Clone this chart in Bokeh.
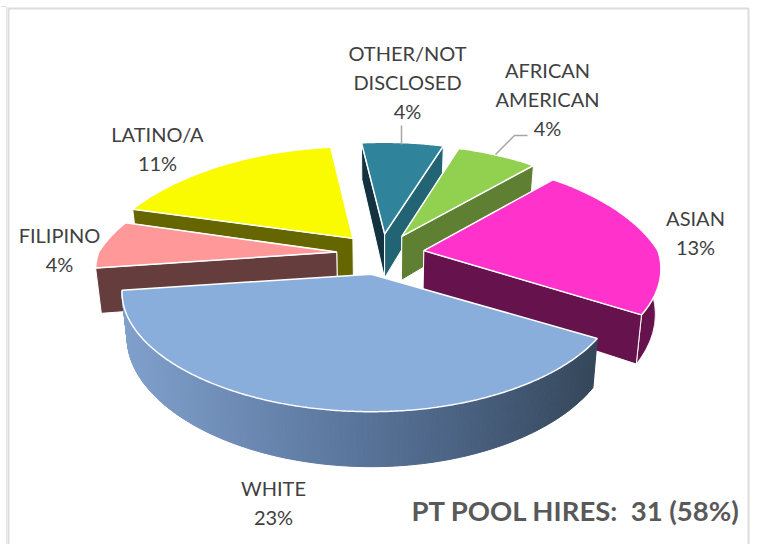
import numpy as np
from bokeh.plotting import figure
from bokeh.models import Range1d
from bokeh.core.properties import value
from bokeh.embed import file_html
from bokeh.resources import INLINE

categories = ["OTHER/NOT\nDISCLOSED", "AFRICAN\nAMERICAN", "ASIAN", "WHITE", "FILIPINO", "LATINO/A"]
values = [4, 4, 13, 23, 4, 11]
title_text = "PT POOL HIRES: \u00a031 (58%)"

top_colors = ["#2f849b", "#92d050", "#ff33cc", "#8aaedc", "#ff9999", "#fbfb00"]
wall_colors = ["#12333f", "#5f8032", "#66134d", "#35475a", "#663d3d", "#666600"]
end_colors = ["#236474", "#5f8032", "#66134d", "#35475a", "#663d3d", "#666600"]
label_pos = [(407, 52), (547, 69), (695, 217), (273, 487), (59, 234), (157, 133)]
left_reach = [260.0, 238.0, 238.0, 246.0, 238.0, 248.0]
right_reach = [245.0, 238.0, 234.0, 243.0, 238.0, 238.0]
LINE_H = 29
TEXT = "#404040"

CX, CY, C, P, E, D, START = 380.0, 253.0, 110.0, 0.2, 0.185, 44.0, -6.6
A = 238.0
PX_BACK, PX_FRONT = 0.29, 0.16
SHRINK = 0.98

p = figure(width=759, height=544, output_backend="svg", toolbar_location=None,
           x_range=Range1d(0, 759), y_range=Range1d(544, 0), min_border=0)
p.axis.visible = False
p.grid.visible = False
p.outline_line_color = None
p.background_fill_color = "white"
p.border_fill_color = "white"

# frame
p.line([8, 8, 748, 748], [544, 8, 8, 544], line_color="#dcdcdc", line_width=2)
p.line([0, 6, 6], [6, 6, 544], line_color="#e4e4e4", line_width=1)


def rim(theta, a_left, a_right):
    t = np.radians(theta)
    X, Y = np.sin(t), -np.cos(t)
    w = 1 - P * Y
    wx = 1 - np.where(Y < 0, PX_BACK, PX_FRONT) * Y
    reach = np.where(X < 0, a_left, a_right)
    return reach * X / wx, C * Y / w, Y


total = sum(values)
spans = [v / total * 360 for v in values]
starts = START + np.concatenate([[0], np.cumsum(spans)[:-1]])
slices = []
for s, sp, al, ar in zip(starts, spans, left_reach, right_reach):
    m = np.radians(s + sp / 2)
    mx, my = np.sin(m) * E, -np.cos(m) * E
    w = 1 - P * my
    ax, ay = CX + A * mx / w, CY + C * my / w
    th = np.linspace(s, s + sp, max(int(sp * 2), 12))
    dx, dy, Y = rim(th, al, ar)
    slices.append(dict(ax=ax, ay=ay, x=ax + dx, y=ay + dy, Y=Y, th=th))


def lower(x, y, Y):
    return CX + (np.asarray(x) - CX) * SHRINK, np.asarray(y) + D / (1 - P * np.asarray(Y))


def strip_color(x):
    r = np.interp(x, [125, 300, 450, 597], [0x80, 0x62, 0x4c, 0x35])
    g = np.interp(x, [125, 300, 450, 597], [0xa0, 0x7f, 0x64, 0x47])
    b = np.interp(x, [125, 300, 450, 597], [0xcc, 0xa7, 0x85, 0x5a])
    return "#%02x%02x%02x" % (int(r), int(g), int(b))


draw_order = [5, 0, 1, 4, 2, 3]  # back to front
for i in draw_order:
    s = slices[i]
    bx0, by0 = lower(s["ax"], s["ay"], 0.0)
    bx, by = lower(s["x"], s["y"], s["Y"])
    # outer wall
    if i == 3:
        for k in range(len(s["x"]) - 1):
            xm = (s["x"][k] + s["x"][k + 1]) / 2
            c = strip_color(xm)
            p.patch([s["x"][k], s["x"][k + 1], bx[k + 1], bx[k]],
                    [s["y"][k], s["y"][k + 1], by[k + 1], by[k]],
                    fill_color=c, line_color=c, line_width=1)
    else:
        p.patch(np.r_[s["x"], bx[::-1]], np.r_[s["y"], by[::-1]],
                fill_color=wall_colors[i], line_color="white", line_width=1)
        faces = [(0, wall_colors[i]), (-1, end_colors[i])]
        faces.sort(key=lambda f: s["Y"][f[0]])  # farther cut face first
        for idx, col in faces:
            p.patch([s["ax"], s["x"][idx], bx[idx], bx0], [s["ay"], s["y"][idx], by[idx], by0],
                    fill_color=col, line_color="white", line_width=1)
    # top
    p.patch(np.r_[s["ax"], s["x"]], np.r_[s["ay"], s["y"]],
            fill_color=top_colors[i], line_color="white", line_width=1.5)

# leader lines
p.line([401, 401], [144, 125], line_color="#a6a6a6", line_width=1.5)
p.line([495, 514, 527], [154, 135, 135], line_color="#a6a6a6", line_width=1.5)

# labels
for cat, v, (lx, ly) in zip(categories, values, label_pos):
    lines = cat.split("\n") + [f"{v}%"]
    p.text(x=[lx] * len(lines), y=[ly + n * LINE_H for n in range(len(lines))], text=lines,
           text_font=value("Lato"), text_font_size="20px", text_color=TEXT,
           text_align="center", text_baseline="middle")

p.text(x=[740], y=[510], text=[title_text], text_font=value("Lato"), text_font_style="bold",
       text_font_size="27.5px", text_color="#595959", text_align="right", text_baseline="middle")

open("out.html", "w").write(file_html(p, INLINE))
